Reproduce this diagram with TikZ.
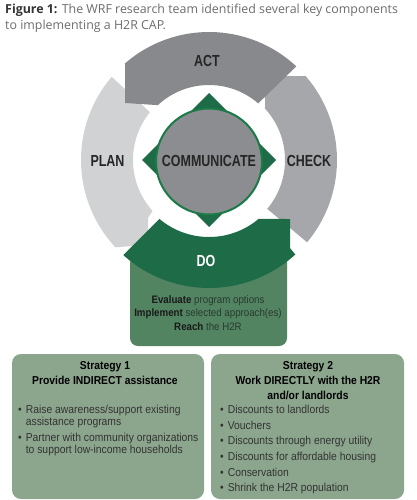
\documentclass[tikz,border=0pt]{standalone}
\usepackage{fontspec}
\setmainfont{Liberation Sans}
\newfontfamily\condfont{Liberation Sans}[FakeStretch=0.78]
\newfontfamily\bodyfont{Liberation Sans}[FakeStretch=0.9]
\newfontfamily\capfont{Open Sans}
\usetikzlibrary{positioning}
\definecolor{actgray}{RGB}{136,137,140}
\definecolor{checkgray}{RGB}{166,167,170}
\definecolor{plangray}{RGB}{209,210,212}
\definecolor{hubgray}{RGB}{140,141,144}
\definecolor{dogreen}{RGB}{30,107,71}
\definecolor{rimgreen}{RGB}{27,122,72}
\definecolor{stepgreen}{RGB}{82,132,98}
\definecolor{sage}{RGB}{140,166,142}
\definecolor{capgray}{RGB}{107,108,111}
\definecolor{softink}{RGB}{40,58,46}

\begin{document}
\begin{tikzpicture}[x=1pt,y=1pt,
  phase/.style={font=\condfont\bfseries\fontsize{16}{16}\selectfont,text=black!85},
  stratbox/.style={fill=sage,rounded corners=9pt,inner sep=0pt,outer sep=0pt,minimum height=145pt,anchor=north west},
  head/.style={font=\bodyfont\bfseries\fontsize{11.5}{15}\selectfont,align=center,anchor=north,inner sep=0pt},
  items/.style={font=\bodyfont\fontsize{11.5}{12.2}\selectfont,text=black!80,anchor=north west,inner sep=0pt}]
\useasboundingbox (0,0) rectangle (416,-500);
%
\node[anchor=north west,inner sep=0pt,align=left,font=\capfont\fontsize{12.4}{16}\selectfont,text=capgray] (cap) at (5,-4)
  {{\bfseries\color{black!80}Figure 1:} The WRF research team identified several key components\\to implementing a H2R CAP.};
%
\begin{scope}[shift={(209,-160)}]
\fill[stepgreen,rounded corners=8pt] (-79,-95) rectangle (78,-186);
\fill[plangray] (139.5:128) arc[start angle=139.5,end angle=223,radius=128] -- (-61,-85) -- (-61,-58) -- (222:76) arc[start angle=222,end angle=141,radius=76] -- cycle;
\fill[checkgray] (-40:128) arc[start angle=-40,end angle=41,radius=128] -- (56,84) -- (56,52) -- (43:76) arc[start angle=43,end angle=-40,radius=76] -- cycle;
\fill[actgray] (47:128) arc[start angle=47,end angle=131,radius=128] -- (-84,57) -- (133:75) arc[start angle=133,end angle=49,radius=75] -- cycle;
\fill[dogreen] (228:128) arc[start angle=228,end angle=312.4,radius=128] -- (81,-88) -- (81,-59) -- (310:77) arc[start angle=310,end angle=230,radius=77] -- cycle;
\fill[dogreen] (0,67) -- (67,0) -- (0,-67) -- (-67,0) -- cycle;
\draw[rimgreen,line width=2pt,fill=hubgray] (0,-1.5) circle[radius=53];
%
\node[phase] (act) at (-2,99) {ACT};
\node[phase] (plan) at (-101.5,-1) {PLAN};
\node[phase] (check) at (100,-1) {CHECK};
\node[phase] (hub) at (0,-1) {COMMUNICATE};
\node[phase,text=white] (do) at (-3,-101) {DO};
\node[font=\bodyfont\fontsize{10.8}{13.5}\selectfont,align=center,text=softink] (steps) at (-1,-153)
  {{\color{black!90}\bfseries Evaluate} program options\\{\color{black!90}\bfseries Implement} selected approach(es)\\{\color{black!90}\bfseries Reach} the H2R};
\end{scope}
%
\node[stratbox,minimum width=192pt] (indirect) at (12,-354) {};
\node[stratbox,minimum width=193pt] (direct) at (211,-354) {};
\node[head] (indhead) at (105,-361) {Strategy 1\\Provide INDIRECT assistance};
\node[head] (dirhead) at (308,-361) {Strategy 2\\Work DIRECTLY with the H2R\\and/or landlords};
\node[items] (inditems) at (18,-405) {\begin{tabular}{@{}l@{\hspace{4pt}}l@{}}
  \textbullet & Raise awareness/support existing\\
              & assistance programs\\[3.4pt]
  \textbullet & Partner with community organizations\\
              & to support low-income households
  \end{tabular}};
\node[items] (diritems) at (220,-405) {\begin{tabular}{@{}l@{\hspace{4pt}}l@{}}
  \textbullet & Discounts to landlords\\[3.4pt]
  \textbullet & Vouchers\\[3.4pt]
  \textbullet & Discounts through energy utility\\[3.4pt]
  \textbullet & Discounts for affordable housing\\[3.4pt]
  \textbullet & Conservation\\[3.4pt]
  \textbullet & Shrink the H2R population
  \end{tabular}};
\end{tikzpicture}
\end{document}
